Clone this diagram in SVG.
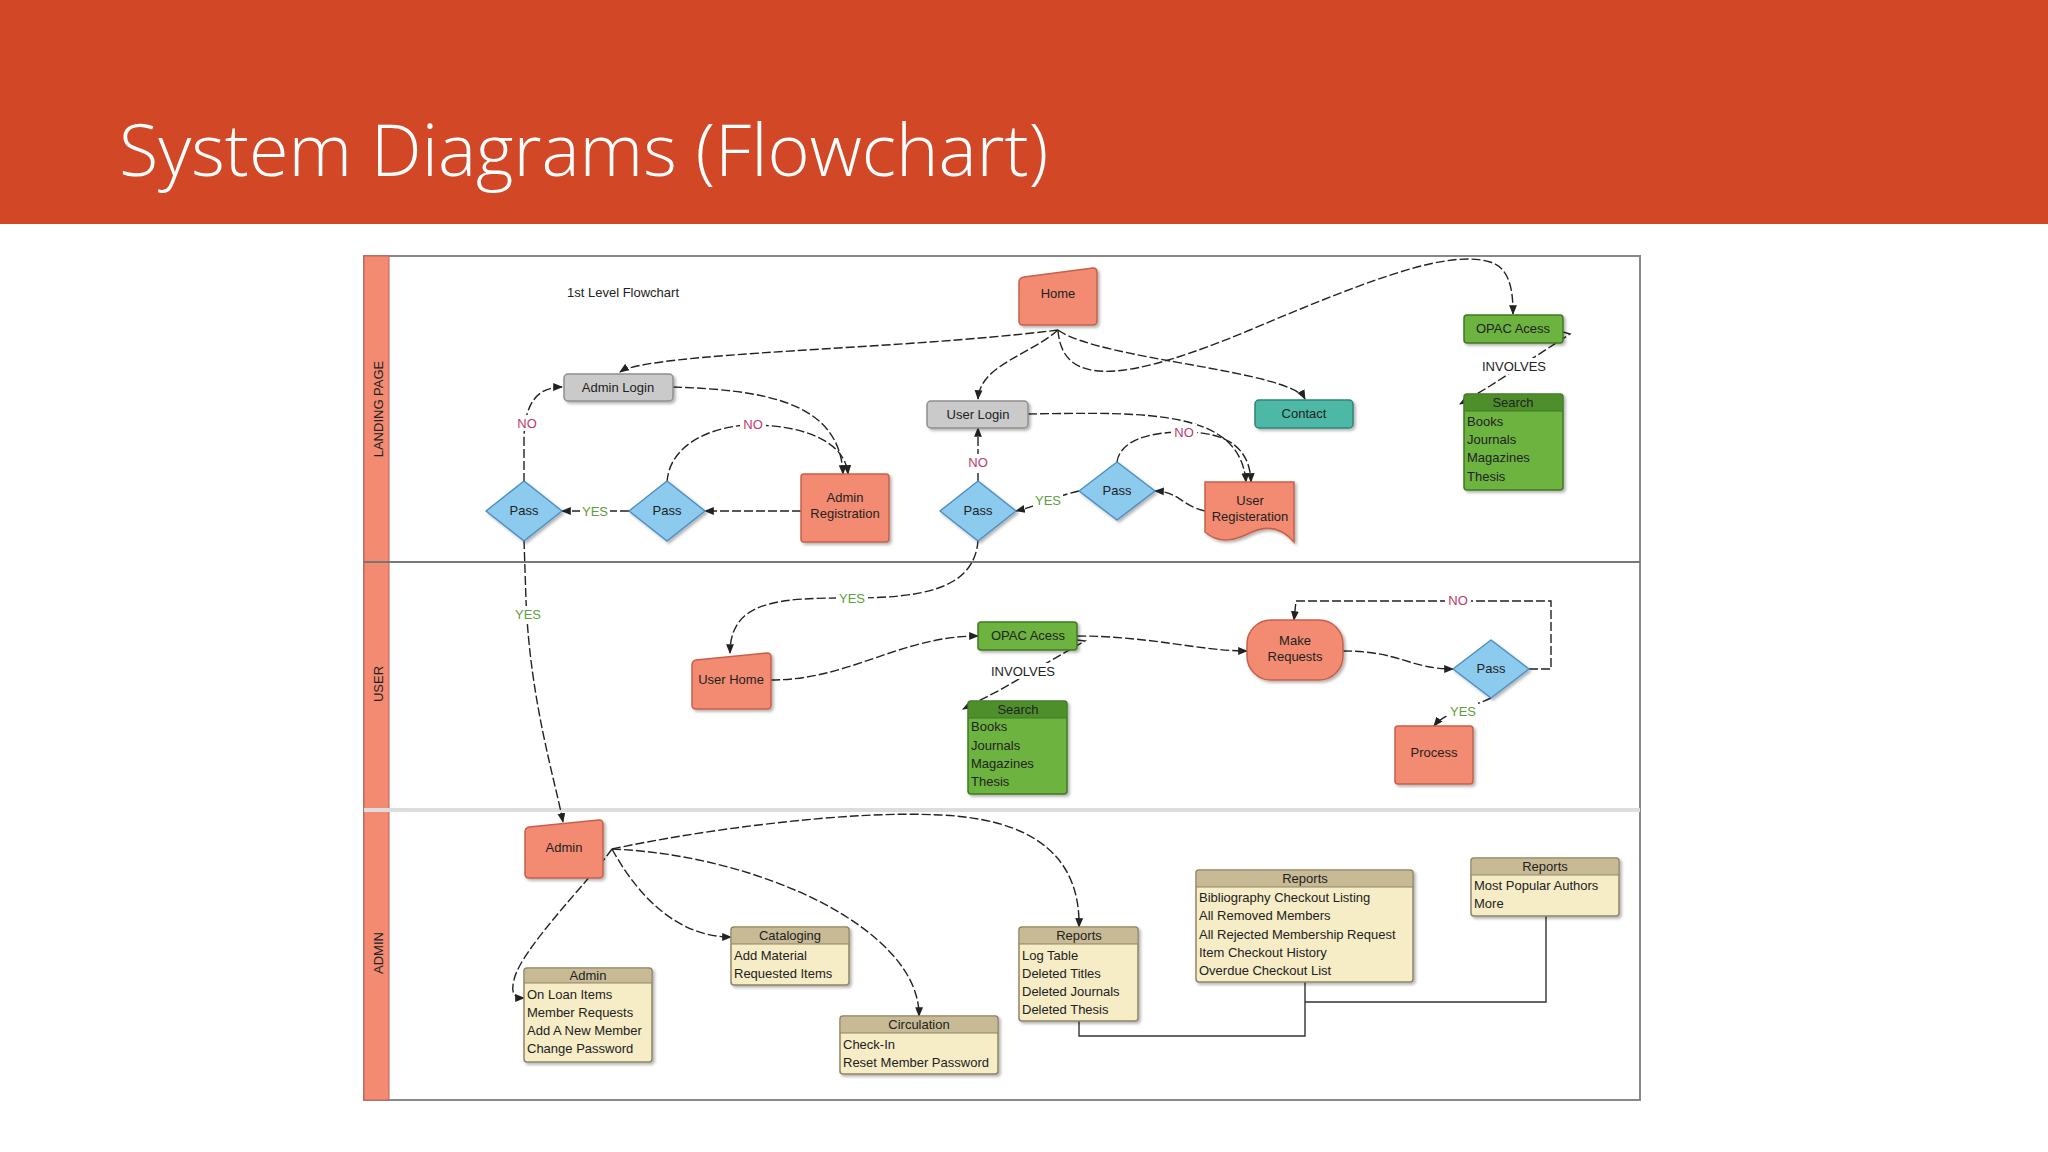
<svg xmlns="http://www.w3.org/2000/svg" width="2048" height="1152" viewBox="0 0 2048 1152">
<defs>
<marker id="ar" viewBox="0 0 10 10" refX="9" refY="5" markerWidth="7" markerHeight="7" orient="auto-start-reverse"><path d="M0,1 L10,5 L0,9 Z" fill="#222"/></marker>
<filter id="sh" x="-10%" y="-10%" width="130%" height="130%"><feDropShadow dx="2" dy="2" stdDeviation="1.5" flood-color="#000" flood-opacity="0.3"/></filter>
</defs>
<style>
text{font-family:"Liberation Sans",Arial,sans-serif;font-size:13px;fill:#222}
.c{text-anchor:middle}
.sal{fill:#F28B71;stroke:#C8614A;stroke-width:1.5;filter:url(#sh)}
.gry{fill:#CACACA;stroke:#8E8E8E;stroke-width:1.5;filter:url(#sh)}
.grn{fill:#6DB33F;stroke:#3F7A22;stroke-width:1.5;filter:url(#sh)}
.grnh{fill:#4E8F2C}
.teal{fill:#4DB8A6;stroke:#2D8475;stroke-width:1.5;filter:url(#sh)}
.dia{fill:#8CCAEE;stroke:#4C8EC2;stroke-width:1.5;filter:url(#sh)}
.tan{fill:#F6ECC6;stroke:#8F8566;stroke-width:1.5;filter:url(#sh)}
.tanh{fill:#C8BA95}
.e{fill:none;stroke:#222;stroke-width:1.4;stroke-dasharray:9 3}
.es{fill:none;stroke:#222;stroke-width:1.4;marker-end:url(#ar)}
.ln{fill:none;stroke:#333;stroke-width:1.4}
.no{fill:#C0396B}
.yes{fill:#5E9E3E}
</style>
<rect width="2048" height="1152" fill="#fff"/>
<rect width="2048" height="224" fill="#D24726"/>
<text x="119" y="176" style="font-family:'Open Sans','Noto Sans',sans-serif;font-weight:300;font-size:72px;fill:#fff">System Diagrams (Flowchart)</text>

<g id="frame">
<rect x="364" y="256" width="1276" height="844" fill="#fff" stroke="#888" stroke-width="2"/>
<rect x="364" y="256" width="25" height="844" fill="#F28B71" stroke="#C8614A" stroke-width="1"/>
<line x1="364" y1="562" x2="1640" y2="562" stroke="#777" stroke-width="2"/>
<line x1="364" y1="810" x2="1640" y2="810" stroke="#ddd" stroke-width="4"/>
<text transform="translate(383,409) rotate(-90)" class="c">LANDING PAGE</text>
<text transform="translate(383,684) rotate(-90)" class="c">USER</text>
<text transform="translate(383,953) rotate(-90)" class="c">ADMIN</text>
<text x="623" y="297" class="c">1st Level Flowchart</text>
</g>

<g id="connectors">
<path class="e es" d="M1058,330 C900,350 650,352 620,372"/>
<path class="e es" d="M1058,330 C1030,355 980,365 978,399"/>
<path class="e es" d="M1058,330 C1100,360 1290,370 1305,399"/>
<path class="e es" d="M1058,330 C1062,390 1130,380 1250,330 C1380,275 1450,250 1490,262 C1510,268 1513,290 1513,314"/>
<path class="e es" d="M1563,332 L1570,334 L1490,386 L1460,404"/>
<path class="e es" d="M673,387 C760,390 840,400 843,474"/>
<path class="e es" d="M667,482 C670,440 720,425 752,425 C800,425 845,440 848,474"/>
<path class="e es" d="M801,511 L705,511"/>
<path class="e es" d="M629,511 L562,511"/>
<path class="e es" d="M524,482 L524,440 C524,400 540,387 562,387"/>
<path class="e es" d="M524,540 L526,600 C530,700 555,780 563,822"/>
<path class="e es" d="M1028,414 C1150,412 1240,410 1246,482"/>
<path class="e es" d="M1117,462 C1120,440 1150,432 1184,432 C1230,432 1250,450 1251,482"/>
<path class="e es" d="M1205,511 C1180,505 1180,492 1155,491"/>
<path class="e es" d="M1079,491 C1060,495 1040,505 1016,511"/>
<path class="e es" d="M978,482 L978,428"/>
<path class="e es" d="M978,540 C975,590 920,598 850,598 C780,598 730,600 730,653"/>
<path class="e es" d="M771,680 C850,680 900,636 978,636"/>
<path class="e es" d="M1077,636 C1150,636 1200,651 1247,651"/>
<path class="e es" d="M1077,640 L1085,641 L1000,690 L963,709"/>
<path class="e es" d="M1343,651 C1400,651 1410,669 1453,669"/>
<path class="e es" d="M1529,669 L1551,669 L1551,601 L1296,601 L1294,620"/>
<path class="e es" d="M1491,698 C1470,708 1445,712 1434,726"/>
<path class="e es" d="M612,849 C590,880 520,950 514,980 C510,995 516,998 524,998"/>
<path class="e es" d="M612,849 C640,900 680,937 731,937"/>
<path class="e es" d="M612,849 C760,855 920,930 919,1016"/>
<path class="e es" d="M612,849 C700,830 850,810 940,815 C1060,820 1080,880 1079,927"/>
<path class="ln" d="M1079,1021 L1079,1036 L1305,1036 L1305,982"/>
<path class="ln" d="M1305,1002 L1546,1002 L1546,916"/>
<rect x="740" y="416" width="26" height="16" fill="#fff"/><text x="753" y="429" class="c no">NO</text>
<rect x="514" y="415" width="26" height="16" fill="#fff"/><text x="527" y="428" class="c no">NO</text>
<rect x="580" y="503" width="30" height="16" fill="#fff"/><text x="595" y="516" class="c yes">YES</text>
<rect x="512" y="606" width="32" height="16" fill="#fff"/><text x="528" y="619" class="c yes">YES</text>
<rect x="1171" y="424" width="26" height="16" fill="#fff"/><text x="1184" y="437" class="c no">NO</text>
<rect x="1033" y="492" width="30" height="16" fill="#fff"/><text x="1048" y="505" class="c yes">YES</text>
<rect x="965" y="454" width="26" height="16" fill="#fff"/><text x="978" y="467" class="c no">NO</text>
<rect x="836" y="590" width="32" height="16" fill="#fff"/><text x="852" y="603" class="c yes">YES</text>
<rect x="1445" y="592" width="26" height="16" fill="#fff"/><text x="1458" y="605" class="c no">NO</text>
<rect x="1448" y="703" width="30" height="16" fill="#fff"/><text x="1463" y="716" class="c yes">YES</text>
<rect x="1476" y="358" width="76" height="16" fill="#fff"/><text x="1514" y="371" class="c">INVOLVES</text>
<rect x="985" y="663" width="76" height="16" fill="#fff"/><text x="1023" y="676" class="c">INVOLVES</text>
</g>

<g id="home"><path class="sal" d="M1019,282 Q1019,278 1024,277 L1093,268 Q1097,268 1097,272 L1097,321 Q1097,325 1093,325 L1023,325 Q1019,325 1019,321 Z"/><text x="1058" y="298" class="c">Home</text></g>
<g id="admin-login"><rect class="gry" x="564" y="374" width="109" height="27" rx="4"/><text x="618" y="392" class="c">Admin Login</text></g>
<g id="user-login"><rect class="gry" x="927" y="401" width="101" height="27" rx="4"/><text x="978" y="419" class="c">User Login</text></g>
<g id="contact"><rect class="teal" x="1255" y="400" width="98" height="28" rx="4"/><text x="1304" y="418" class="c">Contact</text></g>
<g id="opac-top"><rect class="grn" x="1464" y="315" width="99" height="28" rx="3"/><text x="1513" y="333" class="c">OPAC Acess</text></g>
<g id="search-top"><rect class="grn" x="1464" y="394" width="99" height="96" rx="3"/><rect class="grnh" x="1465" y="395" width="97" height="16"/><line x1="1464" y1="411" x2="1563" y2="411" stroke="#3F7A22"/>
<text x="1513" y="407" class="c">Search</text><text x="1467" y="426">Books</text><text x="1467" y="444">Journals</text><text x="1467" y="462">Magazines</text><text x="1467" y="481">Thesis</text></g>
<g id="pass1"><path class="dia" d="M524,481 L562,511 L524,541 L486,511 Z" stroke-linejoin="round"/><text x="524" y="515" class="c">Pass</text></g>
<g id="pass2"><path class="dia" d="M667,481 L705,511 L667,541 L629,511 Z" stroke-linejoin="round"/><text x="667" y="515" class="c">Pass</text></g>
<g id="admin-registration"><rect class="sal" x="801" y="474" width="88" height="68" rx="3"/><text x="845" y="502" class="c">Admin</text><text x="845" y="518" class="c">Registration</text></g>
<g id="pass3"><path class="dia" d="M978,481 L1016,511 L978,541 L940,511 Z" stroke-linejoin="round"/><text x="978" y="515" class="c">Pass</text></g>
<g id="pass4"><path class="dia" d="M1117,462 L1155,491 L1117,520 L1079,491 Z" stroke-linejoin="round"/><text x="1117" y="495" class="c">Pass</text></g>
<g id="user-registration"><path class="sal" d="M1205,482 H1294 V542 C1282,528 1268,525 1252,532 C1236,540 1220,545 1205,532 Z"/><text x="1250" y="505" class="c">User</text><text x="1250" y="521" class="c">Registeration</text></g>

<g id="user-home"><path class="sal" d="M692,665 Q692,661 696,660 L767,653 Q771,653 771,657 L771,705 Q771,709 767,709 L696,709 Q692,709 692,705 Z"/><text x="731" y="684" class="c">User Home</text></g>
<g id="opac-user"><rect class="grn" x="978" y="622" width="99" height="28" rx="3"/><text x="1028" y="640" class="c">OPAC Acess</text></g>
<g id="search-user"><rect class="grn" x="968" y="701" width="99" height="93" rx="3"/><rect class="grnh" x="969" y="702" width="97" height="16"/><line x1="968" y1="718" x2="1067" y2="718" stroke="#3F7A22"/>
<text x="1018" y="714" class="c">Search</text><text x="971" y="731">Books</text><text x="971" y="750">Journals</text><text x="971" y="768">Magazines</text><text x="971" y="786">Thesis</text></g>
<g id="make-requests"><rect class="sal" x="1247" y="620" width="96" height="60" rx="24"/><text x="1295" y="645" class="c">Make</text><text x="1295" y="661" class="c">Requests</text></g>
<g id="pass5"><path class="dia" d="M1491,640 L1529,669 L1491,698 L1453,669 Z" stroke-linejoin="round"/><text x="1491" y="673" class="c">Pass</text></g>
<g id="process"><rect class="sal" x="1395" y="726" width="78" height="58" rx="3"/><text x="1434" y="757" class="c">Process</text></g>

<g id="admin"><path class="sal" d="M525,832 Q525,828 529,827 L599,820 Q603,820 603,824 L603,874 Q603,878 599,878 L529,878 Q525,878 525,874 Z"/><text x="564" y="852" class="c">Admin</text></g>
<g id="admin-table"><rect class="tan" x="524" y="968" width="128" height="94" rx="3"/><rect class="tanh" x="525" y="969" width="126" height="14"/><line x1="524" y1="983" x2="652" y2="983" stroke="#8F8566"/>
<text x="588" y="980" class="c">Admin</text><text x="527" y="999">On Loan Items</text><text x="527" y="1017">Member Requests</text><text x="527" y="1035">Add A New Member</text><text x="527" y="1053">Change Password</text></g>
<g id="cataloging"><rect class="tan" x="731" y="927" width="118" height="58" rx="3"/><rect class="tanh" x="732" y="928" width="116" height="16"/><line x1="731" y1="944" x2="849" y2="944" stroke="#8F8566"/>
<text x="790" y="940" class="c">Cataloging</text><text x="734" y="960">Add Material</text><text x="734" y="978">Requested Items</text></g>
<g id="circulation"><rect class="tan" x="840" y="1016" width="158" height="58" rx="3"/><rect class="tanh" x="841" y="1017" width="156" height="16"/><line x1="840" y1="1033" x2="998" y2="1033" stroke="#8F8566"/>
<text x="919" y="1029" class="c">Circulation</text><text x="843" y="1049">Check-In</text><text x="843" y="1067">Reset Member Password</text></g>
<g id="reports1"><rect class="tan" x="1019" y="927" width="119" height="94" rx="3"/><rect class="tanh" x="1020" y="928" width="117" height="16"/><line x1="1019" y1="944" x2="1138" y2="944" stroke="#8F8566"/>
<text x="1079" y="940" class="c">Reports</text><text x="1022" y="960">Log Table</text><text x="1022" y="978">Deleted Titles</text><text x="1022" y="996">Deleted Journals</text><text x="1022" y="1014">Deleted Thesis</text></g>
<g id="reports2"><rect class="tan" x="1196" y="870" width="217" height="112" rx="3"/><rect class="tanh" x="1197" y="871" width="215" height="16"/><line x1="1196" y1="887" x2="1413" y2="887" stroke="#8F8566"/>
<text x="1305" y="883" class="c">Reports</text><text x="1199" y="902">Bibliography Checkout Listing</text><text x="1199" y="920">All Removed Members</text><text x="1199" y="939">All Rejected Membership Request</text><text x="1199" y="957">Item Checkout History</text><text x="1199" y="975">Overdue Checkout List</text></g>
<g id="reports3"><rect class="tan" x="1471" y="858" width="148" height="58" rx="3"/><rect class="tanh" x="1472" y="859" width="146" height="16"/><line x1="1471" y1="875" x2="1619" y2="875" stroke="#8F8566"/>
<text x="1545" y="871" class="c">Reports</text><text x="1474" y="890">Most Popular Authors</text><text x="1474" y="908">More</text></g>
</svg>
